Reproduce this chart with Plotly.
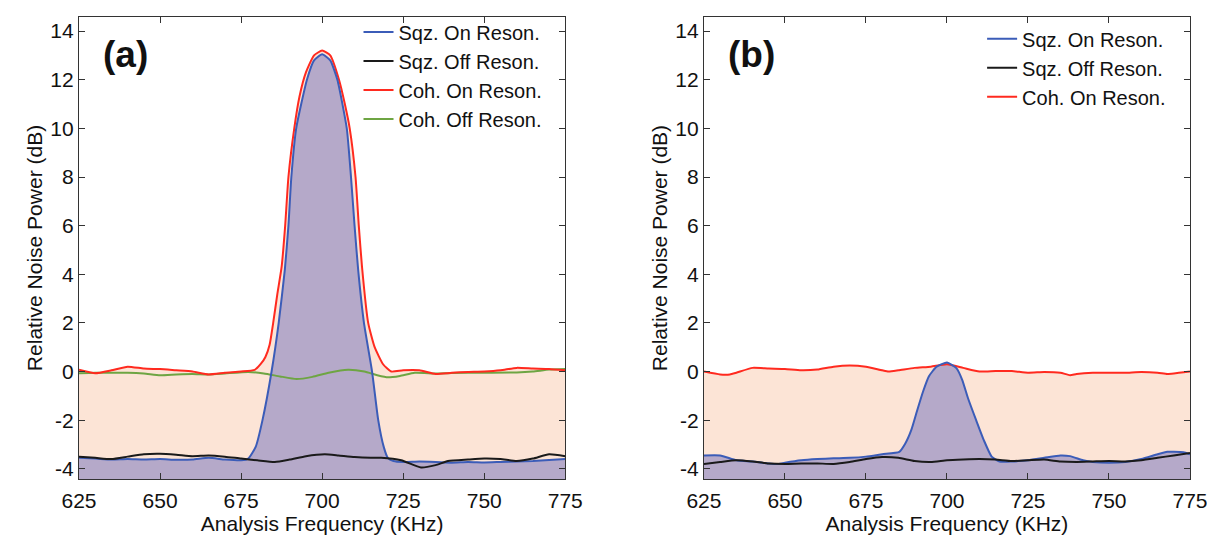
import plotly.graph_objects as go
from plotly.subplots import make_subplots

# ---------------- data ----------------
# Panel (a)
a_sqz_on_x = [625, 630, 635, 640, 645, 650, 655, 660, 665, 670, 675, 677.2, 679.5, 681.6, 684.4, 686.6,
              688.5, 689.6, 690.5, 692, 695.3, 697.5, 700, 702.5, 704.7, 707.6, 708.9, 710, 711.1,
              712.9, 715.4, 717.3, 719, 720.3, 722, 725, 730, 735, 740, 745, 750, 755, 760, 765, 770, 775]
a_sqz_on_y = [-3.55, -3.58, -3.62, -3.6, -3.62, -3.6, -3.63, -3.62, -3.55, -3.62, -3.65, -3.58, -3.1, -2.0, 0.0, 2.0,
              4.2, 6.0, 8.0, 10.0, 12.0, 12.8, 13.05, 12.8, 12.0, 10.0, 8.0, 6.0, 4.2,
              2.0, 0.0, -2.0, -3.1, -3.56, -3.68, -3.72, -3.7, -3.72, -3.75, -3.72, -3.74, -3.72, -3.7, -3.68, -3.64, -3.6]

a_sqz_off_x = [625, 630, 635, 640, 645, 650, 655, 660, 665, 670, 675, 680, 685.4, 690, 695, 700.8, 705, 710,
               715, 718.2, 724.4, 730.5, 735, 738.8, 745, 750, 755, 760, 765, 770, 775]
a_sqz_off_y = [-3.5, -3.55, -3.6, -3.5, -3.4, -3.38, -3.42, -3.48, -3.45, -3.5, -3.58, -3.65, -3.72, -3.62, -3.48, -3.4, -3.45, -3.52,
               -3.55, -3.55, -3.65, -3.95, -3.85, -3.68, -3.62, -3.58, -3.6, -3.68, -3.58, -3.4, -3.48]

a_coh_on_x = [625, 630, 635, 640, 645, 650, 655, 660, 665, 670, 675, 679.2, 681, 682.5, 683.8, 684.9, 686.2,
              687.5, 688.6, 689.6, 691.4, 693, 695, 697.5, 700, 702.5, 705.2, 707, 708.5, 710.3, 711.3,
              712.3, 714.2, 716.2, 718.8, 721.3, 725, 730, 735, 740, 745, 750, 755, 760, 765, 770, 775]
a_coh_on_y = [0.07, -0.07, 0.05, 0.2, 0.12, 0.1, 0.05, 0.0, -0.12, -0.05, 0.0, 0.07, 0.3, 0.6, 1.1, 2.0, 3.2,
              4.3, 6.0, 8.0, 10.0, 11.3, 12.3, 13.0, 13.2, 13.0, 12.0, 11.0, 10.0, 8.0, 6.0,
              4.3, 2.0, 1.0, 0.3, 0.0, 0.05, 0.05, -0.1, -0.05, -0.02, 0.0, 0.05, 0.15, 0.12, 0.1, 0.05]

a_coh_off_x = [625, 630, 640, 645, 650, 655, 660, 665, 670, 677.2, 682, 687, 692.1, 697, 702, 708, 713, 717,
               720.3, 724, 728.6, 735, 740, 750, 760, 765, 770, 775]
a_coh_off_y = [-0.07, -0.05, -0.05, -0.08, -0.15, -0.12, -0.1, -0.12, -0.08, -0.02, -0.08, -0.2, -0.31, -0.22, -0.05, 0.07, 0.0, -0.15,
               -0.24, -0.18, -0.05, -0.08, -0.06, -0.05, -0.04, 0.0, 0.08, 0.1]

# Panel (b)
b_sqz_on_x = [625, 630, 635, 640, 645, 648, 650, 655, 660, 665, 670, 675, 680, 685.3, 687.1, 689, 690.8, 692.6,
              694.4, 696.8, 700, 702.9, 704.7, 706.5, 709, 711.4, 713.8, 716.2, 720, 725, 730, 735, 738, 742,
              745, 750, 755, 760, 765, 768, 770, 773, 775]
b_sqz_on_y = [-3.45, -3.45, -3.65, -3.7, -3.78, -3.8, -3.75, -3.65, -3.6, -3.57, -3.55, -3.5, -3.4, -3.3, -2.97, -2.4, -1.6, -0.83,
              -0.2, 0.2, 0.37, 0.14, -0.34, -1.1, -2.0, -2.83, -3.5, -3.7, -3.7, -3.65, -3.55, -3.45, -3.48, -3.65,
              -3.72, -3.75, -3.72, -3.6, -3.4, -3.3, -3.3, -3.32, -3.4]

b_sqz_off_x = [625, 630, 635, 640, 645, 650, 655, 660, 665, 670, 675, 680, 685, 690, 695, 700, 705, 710,
               715, 720, 725, 730, 735, 740, 745, 750, 755, 760, 765, 770, 775]
b_sqz_off_y = [-3.8, -3.72, -3.65, -3.7, -3.78, -3.8, -3.78, -3.78, -3.8, -3.72, -3.6, -3.52, -3.55, -3.68, -3.72, -3.65, -3.62, -3.6,
               -3.62, -3.68, -3.65, -3.62, -3.7, -3.72, -3.7, -3.68, -3.7, -3.65, -3.55, -3.45, -3.35]

b_coh_on_x = [625, 630, 633, 635, 640, 645, 650, 655, 660, 665, 670, 675, 680, 682, 685, 690, 695, 700,
              705, 710, 715, 720, 725, 730, 735, 738, 740, 745, 750, 755, 760, 765, 768, 770, 775]
b_coh_on_y = [0.0, -0.12, -0.12, -0.05, 0.15, 0.12, 0.1, 0.05, 0.08, 0.2, 0.25, 0.2, 0.05, 0.0, 0.05, 0.15, 0.2, 0.3,
              0.15, 0.0, 0.02, 0.02, -0.05, -0.02, -0.05, -0.15, -0.1, -0.05, -0.05, -0.05, -0.02, -0.05, -0.1, -0.08, 0.0]

x_ticks = [625, 650, 675, 700, 725, 750, 775]
y_ticks = [-4, -2, 0, 2, 4, 6, 8, 10, 12, 14]
y_tick_labels = ["-4", "-2", "0", "2", "4", "6", "8", "10", "12", "14"]
x_range = [625, 775]
y_range = [-4.42, 14.58]

series_names = ["Sqz. On Reson.", "Sqz. Off Reson.", "Coh. On Reson.", "Coh. Off Reson."]

# ---------------- style ----------------
BLUE = "#3b5cb8"
BLACK = "#1a1a1a"
RED = "#ff2a1f"
GREEN = "#6ea543"
PEACH = "#fce4d6"
PURPLE = "#b5a9c9"
FONT = "Liberation Sans, Arial, Helvetica, sans-serif"
SMOOTH = 0.5

fig = make_subplots(rows=1, cols=2, horizontal_spacing=0.125)


def add_panel(col, legend_id, coh_x, coh_y, sqz_x, sqz_y, off_x, off_y, cohoff_x=None, cohoff_y=None):
    # peach fill under coherent on-resonance curve
    fig.add_trace(go.Scatter(x=coh_x, y=[y_range[0]] * len(coh_x), mode="lines", line=dict(width=0),
                             showlegend=False, hoverinfo="skip"), row=1, col=col)
    fig.add_trace(go.Scatter(x=coh_x, y=coh_y, mode="lines", fill="tonexty", fillcolor=PEACH,
                             line=dict(width=0, shape="spline", smoothing=SMOOTH),
                             showlegend=False, hoverinfo="skip"), row=1, col=col)
    # purple fill under squeezed on-resonance curve
    fig.add_trace(go.Scatter(x=sqz_x, y=[y_range[0]] * len(sqz_x), mode="lines", line=dict(width=0),
                             showlegend=False, hoverinfo="skip"), row=1, col=col)
    fig.add_trace(go.Scatter(x=sqz_x, y=sqz_y, mode="lines", fill="tonexty", fillcolor=PURPLE,
                             line=dict(width=0, shape="spline", smoothing=SMOOTH),
                             showlegend=False, hoverinfo="skip"), row=1, col=col)
    if cohoff_x is not None:
        fig.add_trace(go.Scatter(x=cohoff_x, y=cohoff_y, mode="lines", name=series_names[3],
                                 line=dict(color=GREEN, width=2, shape="spline", smoothing=SMOOTH),
                                 legend=legend_id, legendrank=4), row=1, col=col)
    fig.add_trace(go.Scatter(x=coh_x, y=coh_y, mode="lines", name=series_names[2],
                             line=dict(color=RED, width=2, shape="spline", smoothing=SMOOTH),
                             legend=legend_id, legendrank=3), row=1, col=col)
    fig.add_trace(go.Scatter(x=sqz_x, y=sqz_y, mode="lines", name=series_names[0],
                             line=dict(color=BLUE, width=2, shape="spline", smoothing=SMOOTH),
                             legend=legend_id, legendrank=1), row=1, col=col)
    fig.add_trace(go.Scatter(x=off_x, y=off_y, mode="lines", name=series_names[1],
                             line=dict(color=BLACK, width=2, shape="spline", smoothing=SMOOTH),
                             legend=legend_id, legendrank=2), row=1, col=col)


add_panel(1, "legend", a_coh_on_x, a_coh_on_y, a_sqz_on_x, a_sqz_on_y, a_sqz_off_x, a_sqz_off_y,
          a_coh_off_x, a_coh_off_y)
add_panel(2, "legend2", b_coh_on_x, b_coh_on_y, b_sqz_on_x, b_sqz_on_y, b_sqz_off_x, b_sqz_off_y)

axis_common = dict(showline=True, linecolor="#333333", linewidth=1.3, mirror="ticks", ticks="inside",
                   ticklen=6, tickwidth=1.3, tickcolor="#333333", showgrid=False, zeroline=False,
                   tickfont=dict(family=FONT, size=21, color="#111111"))

for c in (1, 2):
    fig.update_xaxes(range=x_range, tickvals=x_ticks, ticklabelstandoff=3,
                     title=dict(text="Analysis Frequency (KHz)", font=dict(family=FONT, size=21, color="#111111"),
                                standoff=0),
                     row=1, col=c, **axis_common)
    fig.update_yaxes(range=y_range, tickvals=y_ticks, ticktext=y_tick_labels,
                     title=dict(text="Relative Noise Power (dB)", font=dict(family=FONT, size=21, color="#111111"),
                                standoff=1),
                     row=1, col=c, **axis_common)

fig.update_xaxes(domain=[0.0, 0.4377], row=1, col=1)
fig.update_xaxes(domain=[0.5625, 1.0], row=1, col=2)

legend_common = dict(bgcolor="rgba(0,0,0,0)", borderwidth=0, font=dict(family=FONT, size=20, color="#111111"),
                     xanchor="right", yanchor="top", tracegroupgap=0, traceorder="normal")
fig.update_layout(
    legend=dict(x=0.4377 - 0.016, y=1.01, **legend_common),
    legend2=dict(x=1.0 - 0.017, y=0.995, **legend_common),
)

fig.add_annotation(text="<b>(a)</b>", xref="x domain", yref="y domain", x=0.045, y=0.918,
                   xanchor="left", yanchor="middle", showarrow=False,
                   font=dict(family=FONT, size=37, color="#111111"))
fig.add_annotation(text="<b>(b)</b>", xref="x2 domain", yref="y2 domain", x=0.045, y=0.918,
                   xanchor="left", yanchor="middle", showarrow=False,
                   font=dict(family=FONT, size=37, color="#111111"))

fig.update_layout(
    width=1215, height=538,
    margin=dict(l=71, r=33, t=9, b=67, autoexpand=False),
    paper_bgcolor="white", plot_bgcolor="white",
    font=dict(family=FONT),
)

fig.write_html("out.html")
